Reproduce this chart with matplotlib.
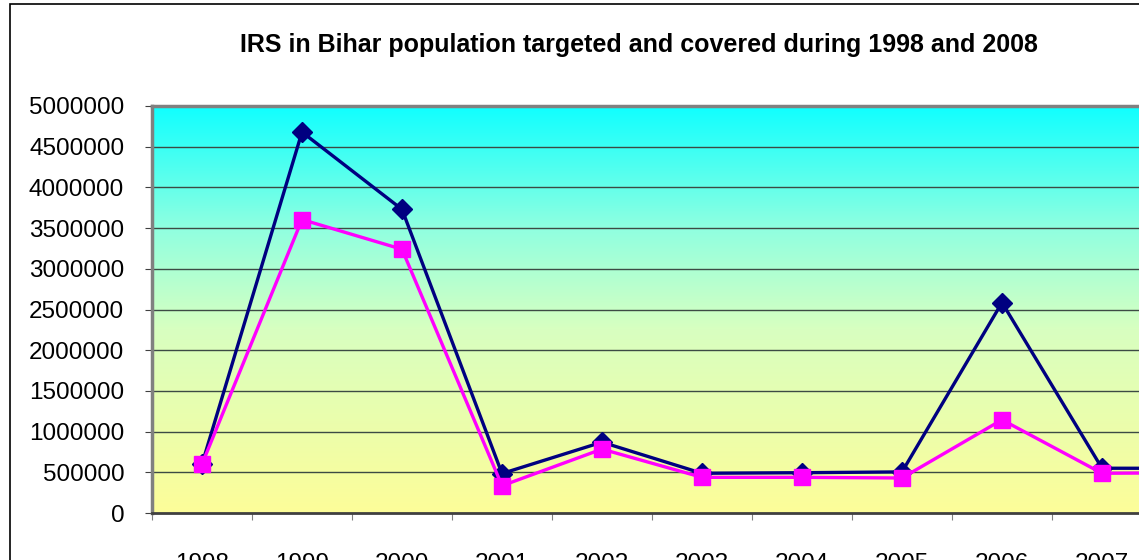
import numpy as np
import matplotlib
matplotlib.use('Agg')
import matplotlib.pyplot as plt
from matplotlib.colors import LinearSegmentedColormap
from matplotlib.patches import Rectangle

plt.rcParams['font.family'] = ['Liberation Sans', 'DejaVu Sans']

years = ['1998', '1999', '2000', '2001', '2002', '2003', '2004', '2005', '2006', '2007', '2008']
targeted = [600000, 4680000, 3730000, 485000, 870000, 488000, 495000, 505000, 2585000, 550000, 549000]
covered = [600000, 3605000, 3240000, 335000, 785000, 438000, 438000, 430000, 1145000, 488000, 495000]
yticks = [0, 500000, 1000000, 1500000, 2000000, 2500000, 3000000, 3500000, 4000000, 4500000, 5000000]

W, H = 1139, 560
fig = plt.figure(figsize=(W / 100, H / 100), dpi=100)

# chart border (cropped on the right and bottom)
fig.patches.append(Rectangle((10 / W, -0.2), 2.0, 1 - 4 / H + 0.2, transform=fig.transFigure,
                             fill=False, edgecolor='black', linewidth=1.2))

# plot area runs past the right edge of the picture
left, right, top, bottom = 152, 1252, 106, 513
ax = fig.add_axes([left / W, 1 - bottom / H, (right - left) / W, (bottom - top) / H])

x = np.arange(len(years))
ax.set_xlim(-0.5, len(years) - 0.5)
ax.set_ylim(0, 5000000)

# gradient background
cmap = LinearSegmentedColormap.from_list('bg', [(0.0, '#FDFD99'), (0.45, '#D8FFC0'),
                                                (0.7, '#90FFE0'), (1.0, '#10FFFF')])
grad = np.linspace(0, 1, 256).reshape(-1, 1)
ax.imshow(grad, aspect='auto', cmap=cmap, origin='lower',
          extent=[-0.5, len(years) - 0.5, 0, 5000000], zorder=0)

for v in yticks[1:-1]:
    ax.axhline(v, color='#3c4a44', linewidth=1.0, zorder=1)

ax.plot(x, targeted, color='#000080', linewidth=2.4, marker='D', markersize=10,
        markerfacecolor='#000080', markeredgecolor='#000080', zorder=3)
ax.plot(x, covered, color='#FF00FF', linewidth=2.4, marker='s', markersize=11,
        markerfacecolor='#FF00FF', markeredgecolor='#FF00FF', zorder=4)

ax.set_yticks(yticks)
ax.set_yticklabels([str(v) for v in yticks], fontsize=17.5)
ax.set_xticks(np.arange(len(years) + 1) - 0.5, minor=False)
ax.set_xticklabels([''] * (len(years) + 1))
ax.set_xticks(x, minor=True)
ax.set_xticklabels(years, minor=True, fontsize=17.5)
ax.tick_params(axis='x', which='minor', length=0, pad=29)
ax.tick_params(axis='x', which='major', length=5, direction='out', color='#808080')
ax.tick_params(axis='y', length=5, direction='out', pad=15, color='#404040')

for s in ['top', 'left']:
    ax.spines[s].set_color('#808080')
    ax.spines[s].set_linewidth(2.5)
ax.spines['bottom'].set_color('#404040')
ax.spines['bottom'].set_linewidth(2)
ax.spines['right'].set_visible(False)

fig.text(639 / W, 1 - 45 / H, 'IRS in Bihar population targeted and covered during 1998 and 2008',
         ha='center', va='center', fontsize=18, fontweight='bold')

fig.savefig('out.png', dpi=100)
